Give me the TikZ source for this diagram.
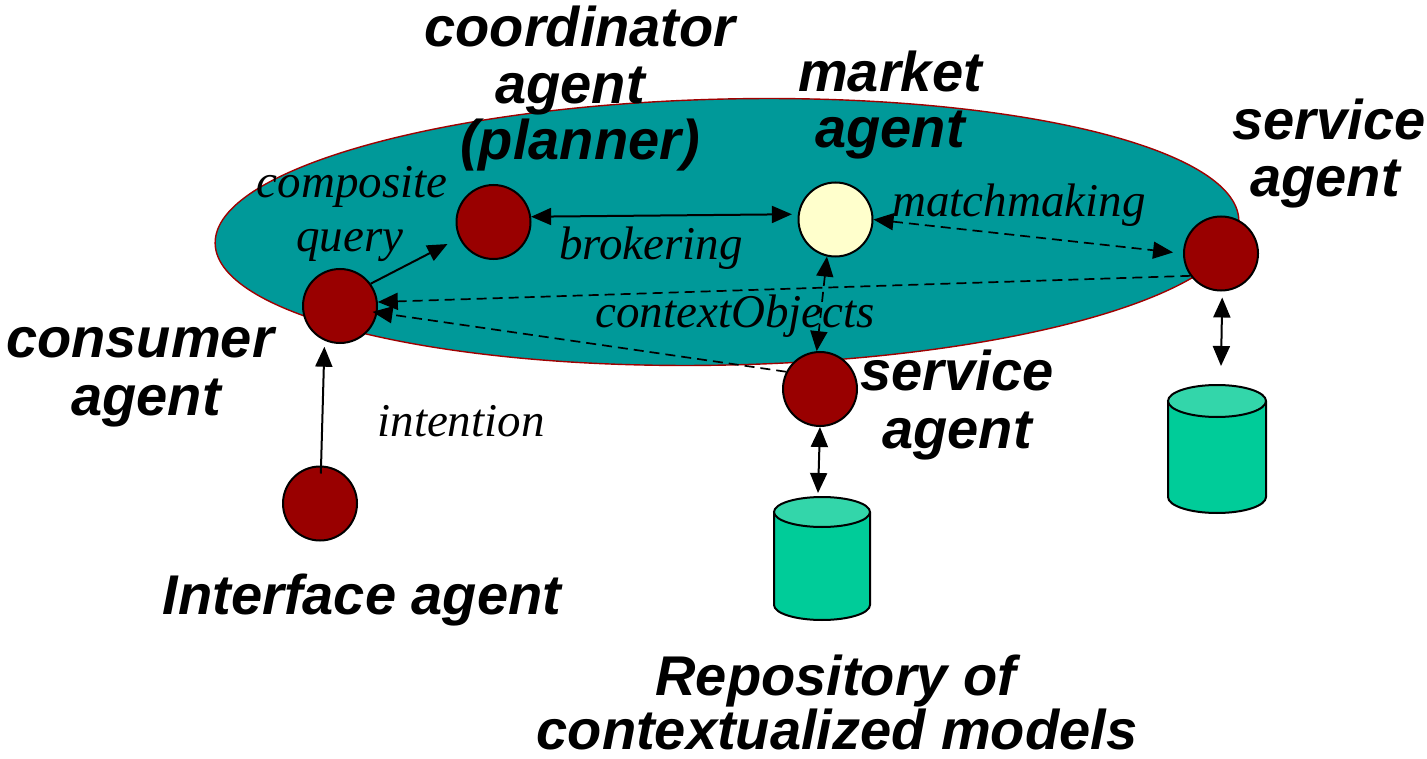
\documentclass[tikz,border=0pt]{standalone}
\usepackage{fontspec}
\setmainfont{Liberation Serif}
\newfontfamily\lblfont{Liberation Sans}
\usetikzlibrary{arrows.meta}
\definecolor{ellteal}{HTML}{009999}
\definecolor{ellborder}{HTML}{A00000}
\definecolor{agentred}{HTML}{990000}
\definecolor{mktyellow}{HTML}{FFFFCC}
\definecolor{cylbody}{HTML}{00CC99}
\definecolor{cyltop}{HTML}{33D6AA}
\begin{document}
\begin{tikzpicture}[x=1pt,y=-1pt,
  >={Triangle[length=20pt,width=17pt]},
  agent/.style={circle, draw=black, line width=2pt, fill=agentred, minimum size=74pt, inner sep=0pt},
  title/.style={font={\lblfont\bfseries\itshape\fontsize{56}{58}\selectfont}, inner sep=0pt, anchor=base},
  lbl/.style={font={\itshape\fontsize{47}{50}\selectfont}, inner sep=0pt, anchor=base},
  conn/.style={line width=2pt},
  dconn/.style={line width=1.7pt, dash pattern=on 10pt off 6pt},
  cyl/.style={draw=black, line width=2pt}
]
\useasboundingbox (0,0) rectangle (1427,759);

% big ellipse
\draw[fill=ellteal, draw=ellborder, line width=1.4pt, rotate around={1.3:(727,232)}]
  (727,232) ellipse [x radius=512pt, y radius=133pt];

% agents
\node[agent] (con) at (340,306) {};
\node[agent] (co) at (493.5,222) {};
\node[agent, fill=mktyellow] (mk) at (835.5,219.5) {};
\node[agent] (sr) at (1221,253.5) {};
\node[agent] (sb) at (820,389) {};
\node[agent] (if) at (320,503.5) {};

% cylinders
\draw[cyl, fill=cylbody] (774,512) -- (774,605)
  arc[start angle=180, end angle=360, x radius=48pt, y radius=15pt] -- (870,512);
\draw[cyl, fill=cyltop] (822,512) ellipse [x radius=48pt, y radius=15pt];
\coordinate (repoA) at (818,493);

\draw[cyl, fill=cylbody] (1168,401) -- (1168,497)
  arc[start angle=180, end angle=360, x radius=49pt, y radius=16pt] -- (1266,401);
\draw[cyl, fill=cyltop] (1217,401) ellipse [x radius=49pt, y radius=16pt];
\coordinate (repoB) at (1221,366);

% connectors
\draw[conn, ->, shorten >=13pt] (con.36) -- (co.205);
\draw[conn, <->, shorten >=6pt] (co.8) -- (mk.172);
\draw[dconn, <->, shorten >=10pt] (mk.0) -- (sr.180);
\draw[dconn, ->] (sr.216) -- (con.6);
\draw[dconn, ->, shorten >=-5pt] (sb.153) -- (con.-10);
\draw[dconn, <->] (mk.-103) -- (sb.95);
\draw[conn, <->] (sb.-90) -- (repoA);
\draw[conn, <->, shorten <=6pt] (sr.-88) -- (repoB);
\draw[conn, ->, shorten <=30pt, shorten >=6pt] (if.center) -- (con.-114);

% titles
\node[title] (tco1) at (580,47) {coordinator};
\node[title] (tco2) at (570,104) {agent};
\node[title] (tco3) at (580,160) {(planner)};
\node[title] (tmk1) at (890,92) {market};
\node[title] (tmk2) at (890,148) {agent};
\node[title] (tsr1) at (1329,140) {service};
\node[title] (tsr2) at (1325,197) {agent};
\node[title] (tcon1) at (140,357) {consumer};
\node[title] (tcon2) at (146,415) {agent};
\node[title] (tsb1) at (957,390) {service};
\node[title] (tsb2) at (957,448) {agent};
\node[title] (tif) at (362,614) {Interface agent};
\node[title] (trp1) at (836,695) {Repository of};
\node[title, text depth=0pt] (trp2) at (837,749) {contextualized models};

% connector labels
\node[lbl] (lcq1) at (352,198) {composite};
\node[lbl] (lcq2) at (350,252) {query};
\node[lbl] (lbr) at (651,260) {brokering};
\node[lbl] (lmm) at (1019,217) {matchmaking};
\node[lbl] (lco) at (735,327) {contextObjects};
\node[lbl] (lin) at (461,436) {intention};
\end{tikzpicture}
\end{document}
